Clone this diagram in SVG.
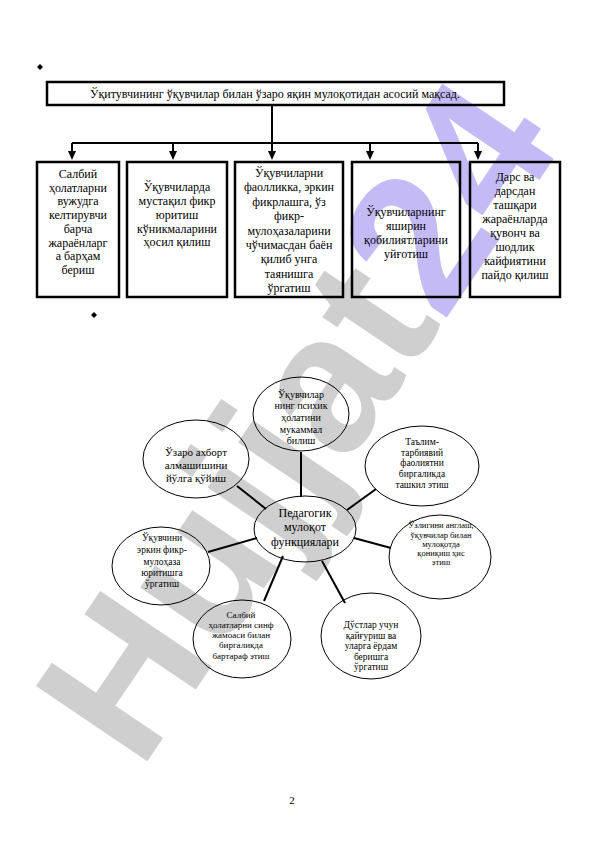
<svg xmlns="http://www.w3.org/2000/svg" width="596" height="842" viewBox="0 0 596 842">
<style>
.t{font-family:"Liberation Serif","Times New Roman",serif;fill:#000;text-anchor:middle}
.b{fill:none;stroke:#000;stroke-width:2.5}
.e{fill:none;stroke:#000;stroke-width:1}
.c{stroke:#000;stroke-width:2;fill:none}
.wm{font-family:"Liberation Sans",Arial,sans-serif;font-weight:bold}
</style>
<rect width="596" height="842" fill="#fff"/>
<g id="watermark" opacity="0.5">
<text class="wm" x="140" y="772" font-size="195" transform="rotate(-56 140 772)"><tspan fill="#a0a0a0">Hujjat</tspan><tspan fill="#8a78ee">24</tspan></text>
</g>
<g id="bullets">
<path d="M40,64 L43,67 L40,70 L37,67 Z" fill="#000"/>
<path d="M94,312 L97,315 L94,318 L91,315 Z" fill="#000"/>
</g>
<g id="top">
<rect class="b" x="47" y="82" width="457" height="23"/>
<text class="t" x="275" y="98" font-size="12">Ўқитувчининг ўқувчилар билан ўзаро яқин мулоқотидан асосий мақсад.</text>
</g>
<g id="tree-connectors">
<path class="c" d="M272,105 V143 M72,143 H478"/>
<path class="c" d="M72,143 V152 M173,143 V152 M272,143 V152 M370,143 V152 M478,143 V152"/>
<path d="M68,151 L76,151 L72,160 Z M169,151 L177,151 L173,160 Z M268,151 L276,151 L272,160 Z M366,151 L374,151 L370,160 Z M474,151 L482,151 L478,160 Z" fill="#000"/>
</g>
<g id="box1">
<rect class="b" x="37" y="162" width="82" height="135"/>
<text class="t" font-size="12"><tspan x="78" y="178">Салбий</tspan><tspan x="78" y="191.7">ҳолатларни</tspan><tspan x="78" y="205.4">вужудга</tspan><tspan x="78" y="219.1">келтирувчи</tspan><tspan x="78" y="232.8">барча</tspan><tspan x="78" y="246.5">жараёнларг</tspan><tspan x="78" y="260.2">а барҳам</tspan><tspan x="78" y="274">бериш</tspan></text>
</g>
<g id="box2">
<rect class="b" x="127" y="162" width="100" height="135"/>
<text class="t" font-size="12"><tspan x="177" y="191">Ўқувчиларда</tspan><tspan x="177" y="205">мустақил фикр</tspan><tspan x="177" y="219">юритиш</tspan><tspan x="177" y="232.5">кўникмаларини</tspan><tspan x="177" y="246">ҳосил қилиш</tspan></text>
</g>
<g id="box3">
<rect class="b" x="235" y="162" width="108" height="135"/>
<text class="t" font-size="12"><tspan x="289" y="177">Ўқувчиларни</tspan><tspan x="289" y="191.4">фаолликка, эркин</tspan><tspan x="289" y="205.8">фикрлашга, ўз</tspan><tspan x="289" y="220.2">фикр-</tspan><tspan x="289" y="234.6">мулоҳазаларини</tspan><tspan x="289" y="249">чўчимасдан баён</tspan><tspan x="289" y="263.4">қилиб унга</tspan><tspan x="289" y="277.8">таянишга</tspan><tspan x="289" y="292">ўргатиш</tspan></text>
</g>
<g id="box4">
<rect class="b" x="352" y="162" width="108" height="135"/>
<text class="t" font-size="12"><tspan x="406" y="216">Ўқувчиларнинг</tspan><tspan x="406" y="230">яширин</tspan><tspan x="406" y="244">қобилиятларини</tspan><tspan x="406" y="257.5">уйғотиш</tspan></text>
</g>
<g id="box5">
<rect class="b" x="470" y="162" width="90" height="135"/>
<text class="t" font-size="12"><tspan x="515" y="181">Дарс ва</tspan><tspan x="515" y="195">дарсдан</tspan><tspan x="515" y="209">ташқари</tspan><tspan x="515" y="223">жараёнларда</tspan><tspan x="515" y="237">қувонч ва</tspan><tspan x="515" y="251">шодлик</tspan><tspan x="515" y="265">кайфиятини</tspan><tspan x="515" y="279">пайдо қилиш</tspan></text>
</g>
<g id="connectors">
<path class="c" d="M301,452 V497"/>
<path class="c" d="M237,486 L266,509"/>
<path class="c" d="M347,510 L376,489"/>
<path class="c" d="M354,538 L391,548"/>
<path class="c" d="M322,561 L345,603"/>
<path class="c" d="M283,556 L264,601"/>
<path class="c" d="M208,552 L257,538"/>
</g>
<g id="center">
<ellipse class="e" cx="305" cy="529" rx="51" ry="33"/>
<text class="t" font-size="12"><tspan x="305" y="517">Педагогик</tspan><tspan x="305" y="531">мулоқот</tspan><tspan x="305" y="546">функциялари</tspan></text>
</g>
<g id="n-top">
<ellipse class="e" cx="301" cy="414" rx="48" ry="37"/>
<text class="t" font-size="10"><tspan x="301" y="398">Ўқувчилар</tspan><tspan x="301" y="409">нинг психик</tspan><tspan x="301" y="420.5">ҳолатини</tspan><tspan x="301" y="433">мукаммал</tspan><tspan x="301" y="444">билиш</tspan></text>
</g>
<g id="n-topleft">
<ellipse class="e" cx="196" cy="459" rx="53" ry="39"/>
<text class="t" font-size="11"><tspan x="196" y="456">Ўзаро ахборт</tspan><tspan x="196" y="469">алмашишини</tspan><tspan x="196" y="482">йўлга қўйиш</tspan></text>
</g>
<g id="n-topright">
<ellipse class="e" cx="422" cy="466" rx="57" ry="40"/>
<text class="t" font-size="9.5"><tspan x="422" y="445">Таълим-</tspan><tspan x="422" y="455.5">тарбиявий</tspan><tspan x="422" y="466">фаолиятни</tspan><tspan x="422" y="476.5">биргаликда</tspan><tspan x="422" y="488">ташкил этиш</tspan></text>
</g>
<g id="n-right">
<ellipse class="e" cx="440" cy="557" rx="51" ry="42"/>
<text class="t" font-size="8.5"><tspan x="441" y="528">Ўзлигини англаш,</tspan><tspan x="441" y="537.5">ўқувчилар билан</tspan><tspan x="441" y="546.5">мулоқотда</tspan><tspan x="441" y="555.5">қониқиш ҳис</tspan><tspan x="441" y="565">этиш</tspan></text>
</g>
<g id="n-bottomright">
<ellipse class="e" cx="371" cy="636" rx="50" ry="43"/>
<text class="t" font-size="9.5"><tspan x="371" y="628">Дўстлар учун</tspan><tspan x="371" y="638.5">қайғуриш ва</tspan><tspan x="371" y="649">уларга ёрдам</tspan><tspan x="371" y="659.5">беришга</tspan><tspan x="371" y="670">ўргатиш</tspan></text>
</g>
<g id="n-bottomleft">
<ellipse class="e" cx="242" cy="639" rx="49" ry="39"/>
<text class="t" font-size="9"><tspan x="241" y="618">Салбий</tspan><tspan x="241" y="628">ҳолатларни синф</tspan><tspan x="241" y="638">жамоаси билан</tspan><tspan x="241" y="648">биргаликда</tspan><tspan x="241" y="659">бартараф этиш</tspan></text>
</g>
<g id="n-left">
<ellipse class="e" cx="161" cy="566" rx="49" ry="39"/>
<text class="t" font-size="9.5"><tspan x="162" y="541">Ўқувчини</tspan><tspan x="162" y="553">эркин фикр-</tspan><tspan x="162" y="565">мулоҳаза</tspan><tspan x="162" y="576">юритишга</tspan><tspan x="162" y="586.5">ўргатиш</tspan></text>
</g>
<text class="t" x="292" y="804" font-size="11">2</text>
</svg>
